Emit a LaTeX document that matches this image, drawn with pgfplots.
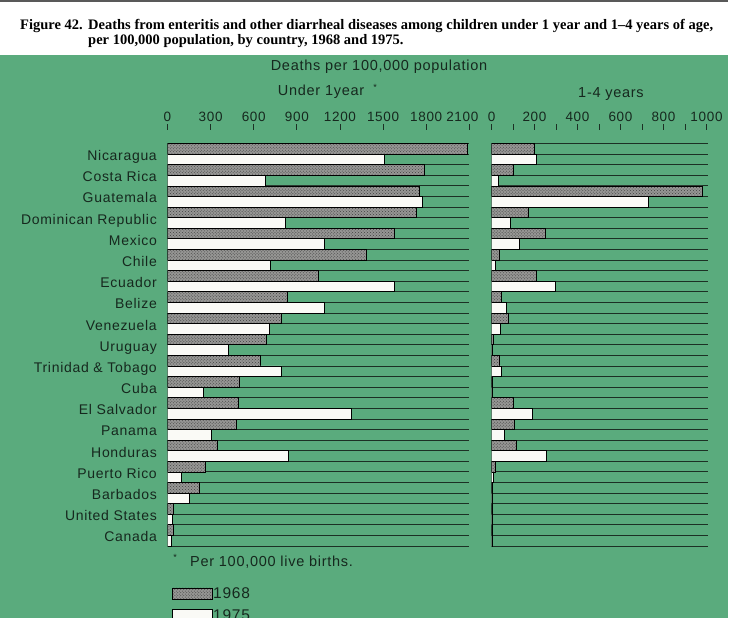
\documentclass[border=0pt]{standalone}
\usepackage{fontspec}
\setmainfont{Liberation Sans}[LetterSpace=5]
\newfontfamily\titlefont{Liberation Serif}[Ligatures=TeX]
\usepackage{pgfplots}
\pgfplotsset{compat=1.18}
\usepackage{pgfplotstable}
\usetikzlibrary{patterns}

\definecolor{bg}{RGB}{90,171,125}
\definecolor{txt}{RGB}{22,40,30}
\definecolor{grd}{RGB}{28,48,36}
\definecolor{hat}{RGB}{150,150,148}
\definecolor{wbar}{RGB}{250,250,246}

% deaths per 100,000: under 1 year (u) and 1-4 years (a), 1968 and 1975
\pgfplotstableread{
i  name        u68   u75   a68  a75
0  Nicaragua   2086  1509  199  207
1  CostaRica   1785  678   101  32
2  Guatemala   1750  1773  981  731
3  Dominican   1734  818   171  89
4  Mexico      1576  1089  250  129
5  Chile       1386  713   36   16
6  Ecuador     1049  1576  207  297
7  Belize      834   1089  44   71
8  Venezuela   790   708   77   43
9  Uruguay     690   426   8    3
10 Trinidad    648   795   36   47
11 Cuba        498   249   5    2
12 ElSalvador  491   1277  101  190
13 Panama      481   303   108  60
14 Honduras    344   843   117  253
15 PuertoRico  266   99    16   8
16 Barbados    219   152   6    6
17 US          43    31    3    2
18 Canada      40    26    2    2
}\data

\pgfplotsset{
  panel/.style={
    scale only axis, anchor=north west,
    height=402.5bp,
    xbar, bar width=1, bar shift=0pt,
    y dir=reverse, ymin=0, ymax=38,
    axis line style={draw=none},
    ytick={1,3,...,37}, minor ytick={0,2,...,38},
    ymajorgrids, yminorgrids,
    major grid style={grd, line width=0.8bp},
    minor grid style={grd, line width=0.8bp},
    major tick length=6bp, minor tick length=6bp,
    tick align=outside,
    xtick pos=right, xticklabel pos=right,
    every tick/.append style={grd, line width=0.8bp, yshift=13.5bp},
    ytick style={draw=none},
    xticklabel style={font=\fontsize{13.5bp}{15bp}\selectfont, text=txt, inner sep=0pt, yshift=16bp},
    /pgf/number format/assume math mode=true,
    /pgf/number format/1000 sep={},
  },
  hatchbar/.style={draw=black, line width=0.7bp, fill=hat,
    postaction={pattern=crosshatch dots, pattern color=black!75},
    legend image code/.code={\draw[##1] (0bp,-5.8bp) rectangle (40bp,5.8bp);}},
  whitebar/.style={draw=black, line width=0.7bp, fill=wbar,
    legend image code/.code={\draw[##1] (0bp,-5.8bp) rectangle (40bp,5.8bp);}},
}

\begin{document}
\begin{tikzpicture}
\useasboundingbox (0,0) rectangle (746bp,-618bp);
\clip (0,0) rectangle (746bp,-618bp);
\fill[black!65] (0,0) rectangle (728bp,-1.8bp);
\fill[bg] (0,-55bp) rectangle (727.5bp,-618bp);

\begin{scope}[every node/.style={anchor=base west, inner sep=0pt, font=\titlefont\bfseries\fontsize{14.5bp}{16bp}\selectfont}]
\node at (20bp,-29bp) {Figure 42.};
\node at (88bp,-29bp) {Deaths from enteritis and other diarrheal diseases among children under 1 year and 1–4 years of age,};
\node at (88bp,-44.5bp) {per 100,000 population, by country, 1968 and 1975.};
\end{scope}

\begin{axis}[panel, at={(167.5bp,-143.5bp)}, width=301.8bp,
  xmin=0, xmax=2100, xtick={0,300,...,2100},
  xticklabels={0,300,600,900,1200,1500,1800,\hspace*{-14bp}2100},
  yticklabels={Nicaragua,Costa Rica,Guatemala,Dominican Republic,Mexico,Chile,Ecuador,Belize,Venezuela,Uruguay,Trinidad \& Tobago,Cuba,El Salvador,Panama,Honduras,Puerto Rico,Barbados,United States,Canada},
  yticklabel style={anchor=base east, inner sep=0pt, xshift=-4.5bp, yshift=-6.5bp, font=\fontsize{14bp}{16bp}\selectfont, text=txt},
  legend style={at={(axis description cs:0,0)}, anchor=north west, xshift=4.2bp, yshift=-40.7bp,
    draw=none, fill=none, inner sep=0pt, row sep=8.4bp,
    font=\fontsize{15.5bp}{16bp}\selectfont, text=txt, nodes={inner sep=0.6bp}},
  legend cell align=left,
]
\addplot[hatchbar] table[x=u68, y expr=2*\thisrow{i}+0.5] {\data};
\addplot[whitebar] table[x=u75, y expr=2*\thisrow{i}+1.5] {\data};
\legend{1968,1975}
\end{axis}

\begin{axis}[panel, at={(491.5bp,-143.5bp)}, width=216.5bp,
  xmin=0, xmax=1007, xtick={0,200,...,1000}, minor xtick={100,300,...,900},
  yticklabels={},
]
\addplot[hatchbar] table[x=a68, y expr=2*\thisrow{i}+0.5] {\data};
\addplot[whitebar] table[x=a75, y expr=2*\thisrow{i}+1.5] {\data};
\end{axis}

\begin{scope}[text=txt, font=\fontsize{14.5bp}{16bp}\selectfont]
\node at (379bp,-66.7bp) {Deaths per 100,000 population};
\node[anchor=west, inner sep=0pt] at (277.7bp,-91.7bp) {Under 1year};
\node at (375bp,-87.5bp) {\fontsize{9bp}{9bp}\selectfont *};
\node at (611bp,-94.3bp) {1-4 years};
\node at (175bp,-557bp) {\fontsize{9bp}{9bp}\selectfont *};
\node[anchor=west, inner sep=0pt] at (190bp,-561.7bp) {Per 100,000 live births.};
\end{scope}
\end{tikzpicture}
\end{document}
